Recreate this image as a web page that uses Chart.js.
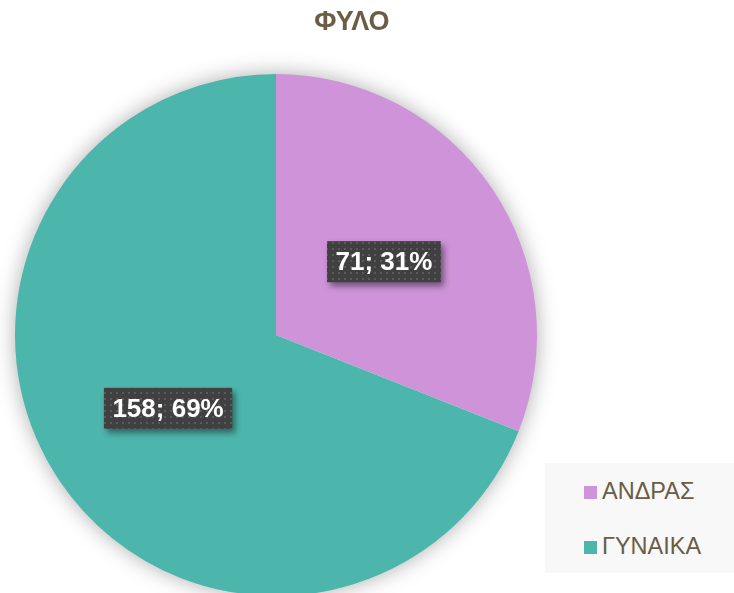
<!DOCTYPE html>
<html>
<head>
<meta charset="utf-8">
<script src="https://cdn.jsdelivr.net/npm/chart.js@4"></script>
<style>
  html, body { margin: 0; padding: 0; background: #fff; }
  #wrap { position: relative; width: 734px; height: 593px; overflow: hidden; }
  #box { position: absolute; left: 0; top: 0; width: 734px; height: 600px; }
  #legend {
    position: absolute; left: 545px; top: 463px; width: 189px; height: 110px;
    background: #f8f8f8; font-family: "Liberation Sans", Arial, sans-serif;
    font-size: 23.5px; color: #6b5d45;
  }
  .item { position: absolute; left: 39px; height: 26px; line-height: 26px; }
  .item span.sw { display: inline-block; width: 13px; height: 13px; margin-right: 5px; vertical-align: 0px; }
</style>
</head>
<body>
<div id="wrap">
  <div id="box"><canvas id="pie"></canvas></div>
  <div id="legend"></div>
</div>
<script>
// data
const labels = ['ΑΝΔΡΑΣ', 'ΓΥΝΑΙΚΑ'];
const counts = [71, 158];
const colors = ['#ce93d8', '#4db6ac'];
const chartTitle = 'ΦΥΛΟ';

const total = counts.reduce((a, b) => a + b, 0);

// html legend
const legendEl = document.getElementById('legend');
const legendTops = [15, 70];
labels.forEach((lab, i) => {
  const d = document.createElement('div');
  d.className = 'item';
  d.style.top = legendTops[i] + 'px';
  d.innerHTML = '<span class="sw" style="background:' + colors[i] + '"></span>' + lab;
  legendEl.appendChild(d);
});

// dotted pattern for label boxes
function makePattern(ctx) {
  const c = document.createElement('canvas');
  c.width = 6; c.height = 6;
  const p = c.getContext('2d');
  p.fillStyle = '#404040';
  p.fillRect(0, 0, 6, 6);
  p.fillStyle = '#5a5a5a';
  p.fillRect(2, 2, 2, 2);
  return ctx.createPattern(c, 'repeat');
}

const decoPlugin = {
  id: 'deco',
  beforeDatasetsDraw(chart) {
    const ctx = chart.ctx;
    const arc = chart.getDatasetMeta(0).data[0];
    if (!arc) return;
    ctx.save();
    ctx.shadowColor = 'rgba(0,0,0,0.35)';
    ctx.shadowBlur = 22;
    ctx.fillStyle = '#ffffff';
    ctx.beginPath();
    ctx.arc(arc.x, arc.y, arc.outerRadius - 1, 0, Math.PI * 2);
    ctx.fill();
    ctx.restore();
  },
  afterDatasetsDraw(chart) {
    const ctx = chart.ctx;
    const meta = chart.getDatasetMeta(0);
    const pat = makePattern(ctx);
    ctx.save();
    ctx.font = 'bold 26px "Liberation Sans", Arial, sans-serif';
    ctx.textAlign = 'center';
    ctx.textBaseline = 'middle';
    meta.data.forEach((el, i) => {
      const pos = el.tooltipPosition();
      const v = counts[i];
      const txt = v + '; ' + Math.round(v / total * 100) + '%';
      const w = ctx.measureText(txt).width + 17;
      const h = 41;
      const x = pos.x - w / 2, y = pos.y - h / 2;
      ctx.save();
      ctx.shadowColor = 'rgba(0,0,0,0.45)';
      ctx.shadowBlur = 6;
      ctx.shadowOffsetX = 3;
      ctx.shadowOffsetY = 4;
      ctx.fillStyle = pat;
      ctx.fillRect(x, y, w, h);
      ctx.restore();
      ctx.fillStyle = '#ffffff';
      ctx.fillText(txt, pos.x, pos.y + 1);
    });
    // title
    ctx.fillStyle = '#6b5d45';
    ctx.font = 'bold 27px "Liberation Sans", Arial, sans-serif';
    ctx.fillText(chartTitle, 352, 23);
    ctx.restore();
  }
};

new Chart(document.getElementById('pie'), {
  type: 'pie',
  data: {
    labels: labels,
    datasets: [{
      data: counts,
      backgroundColor: colors,
      borderWidth: 0
    }]
  },
  options: {
    responsive: true,
    maintainAspectRatio: false,
    animation: false,
    layout: { padding: { left: 15, right: 197, top: 74, bottom: 4 } },
    plugins: {
      legend: { display: false },
      title: { display: false },
      tooltip: { enabled: false }
    }
  },
  plugins: [decoPlugin]
});
</script>
</body>
</html>
